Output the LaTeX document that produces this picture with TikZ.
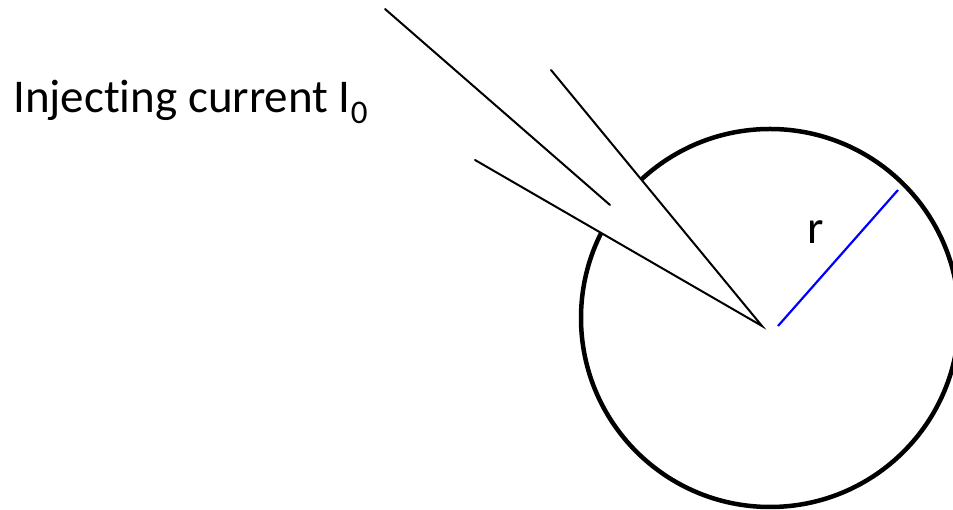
\documentclass[tikz,border=0pt]{standalone}
\usepackage{fontspec}
\setmainfont[Ligatures=CommonOff]{Carlito}
\begin{document}
\begin{tikzpicture}[x=1pt,y=1pt,
  cell/.style={line width=4.5pt, draw=black},
  glass/.style={line width=2pt, draw=black, line cap=round},
  radius line/.style={line width=2.2pt, draw=blue},
  lab/.style={font=\fontsize{47}{52}\selectfont, inner sep=0pt}]
\useasboundingbox (0,0) rectangle (953,510);
\clip (0,0) rectangle (953,510);
% cell
\coordinate (c) at (770,192);
\draw[cell] (c) circle[radius=189];
% pipette
\coordinate (b) at (551,440);
\coordinate (tip) at (762,184);
\coordinate (cc) at (475,350);
\coordinate (a1) at (385,501);
\coordinate (a2) at (610,305);
\fill[white] (b) -- (tip) -- (cc) -- cycle;
\draw[glass] (b) -- (tip) -- (cc);
\draw[glass] (a1) -- (a2);
% radius
\coordinate (r1) at (778,184);
\coordinate (r2) at (898,320);
\draw[radius line] (r1) -- (r2);
\node[lab, anchor=base] (rl) at (816,266) {r};
\node[lab, anchor=base west] (inj) at (13,397) {Injecting current I\raisebox{-11pt}{\fontsize{33}{33}\selectfont 0}};
\end{tikzpicture}
\end{document}
